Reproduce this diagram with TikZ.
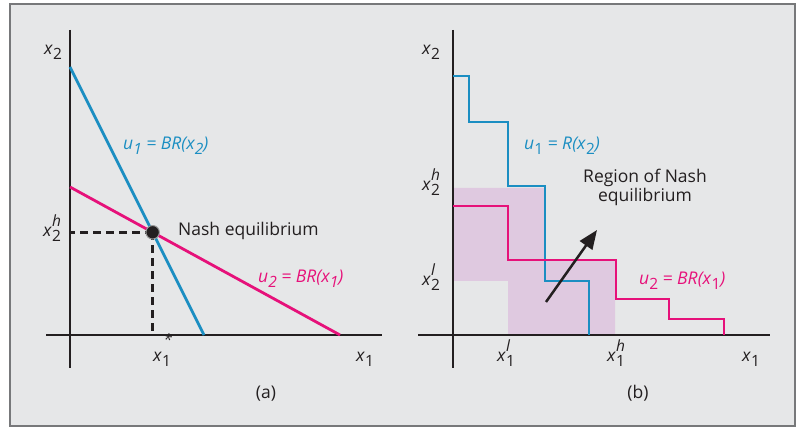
\documentclass[tikz,border=0pt]{standalone}
\usepackage{fontspec}
\setmainfont{Open Sans}
\usetikzlibrary{arrows.meta}
\definecolor{bg}{HTML}{E6E7E8}
\definecolor{frm}{HTML}{77787A}
\definecolor{cblue}{HTML}{1B8EC2}
\definecolor{cmag}{HTML}{E6117A}
\definecolor{shadec}{HTML}{DFC9E0}
\definecolor{txt}{HTML}{231F20}
\newcommand{\mysbx}[1]{\raisebox{-0.24em}{\fontsize{15.5}{15.5}\selectfont #1}}
\newcommand{\myspx}[2]{\raisebox{#1}{\fontsize{15.5}{15.5}\selectfont\itshape #2}}
\newcommand{\myvs}[2]{\textit{#1}\mysbx{#2}}
\newcommand{\myvss}[3]{\textit{#1}\rlap{\mysbx{#2}}\myspx{0.62em}{#3}}
\tikzset{
  axis/.style={line width=1.3pt, txt},
  curve/.style={line width=2.8pt, line join=miter},
  lbl/.style={inner sep=0pt, text=txt, font=\fontsize{17.5}{19.5}\selectfont},
  dashedln/.style={line width=2.7pt, txt, dash pattern=on 8pt off 5pt},
}
\begin{document}
\begin{tikzpicture}[x=1pt,y=-1pt]
\useasboundingbox (0,0) rectangle (803,427);
\fill[white] (0,0) rectangle (803,427);
\draw[frm, fill=bg, line width=1.2pt] (10,4) rectangle (795,426);

% ---------- panel (a) ----------
\coordinate (ay0) at (70,30);  \coordinate (ay1) at (70,368);
\coordinate (ax0) at (46,335); \coordinate (ax1) at (382,335);
\coordinate (aO) at (70,335);
\coordinate (b1) at (70,67);  \coordinate (b2) at (204,335);
\coordinate (m1) at (70,187); \coordinate (m2) at (340,335);
\draw[axis] (ay0) -- (ay1);
\draw[axis] (ax0) -- (ax1);
\draw[curve, cblue] (b1) -- (b2);
\draw[curve, cmag] (m1) -- (m2);
\coordinate (eqc) at (intersection of b1--b2 and m1--m2);
\draw[dashedln] (eqc) -- (eqc -| aO);
\draw[dashedln] (eqc) -- (eqc |- aO);
\node[circle, fill=txt, draw=black!40, line width=1pt, inner sep=0pt, minimum size=13.5pt] (eq) at (eqc) {};

\node[lbl, anchor=base west] (ax2) at (44,55) {\myvs{x}{2}};
\node[lbl, anchor=base west] (ax2h) at (43,237) {\myvss{x}{2}{h}};
\node[lbl, anchor=base west] (ax1s) at (153,362) {\textit{x}\rlap{\mysbx{1}}\myspx{0.95em}{\kern0.08em*}};
\node[lbl, anchor=base west] (ax1) at (356,362) {\myvs{x}{1}};
\node[lbl, anchor=base west, text=cblue] (au1) at (123,150) {\textit{u\mysbx{1} = BR(x\mysbx{2})}};
\node[lbl, anchor=base west] (nash) at (178,236) {Nash equilibrium};
\node[lbl, anchor=base west, text=cmag] (au2) at (258,283) {\textit{u\mysbx{2} = BR(x\mysbx{1})}};
\node[lbl, anchor=base] (capa) at (266,399) {(a)};

% ---------- panel (b) ----------
\coordinate (by0) at (453,30);  \coordinate (by1) at (453,368);
\coordinate (bx0) at (418,335); \coordinate (bx1) at (770,335);
\fill[shadec] (453,188) -- (545,188) -- (545,260) -- (615,260) -- (615,335)
  -- (508,335) -- (508,281) -- (453,281) -- cycle;
\draw[axis] (by0) -- (by1);
\draw[axis] (bx0) -- (bx1);
\draw[curve, cblue] (453,76) -- (469,76) -- (469,122) -- (508,122) -- (508,186)
  -- (545,186) -- (545,281) -- (589,281) -- (589,335);
\draw[curve, cmag] (453,206) -- (508,206) -- (508,260) -- (616,260) -- (616,299)
  -- (669,299) -- (669,319) -- (724,319) -- (724,335);
\coordinate (arrS) at (546,302);
\coordinate (arrE) at (597,230);
\draw[line width=2.5pt, txt, -{Triangle[length=19pt,width=15pt]}] (arrS) -- (arrE);

\node[lbl, anchor=base west] (bx2) at (422,55) {\myvs{x}{2}};
\node[lbl, anchor=base west] (bx2h) at (422,191) {\myvss{x}{2}{h}};
\node[lbl, anchor=base west] (bx2l) at (422,286) {\myvss{x}{2}{l}};
\node[lbl, anchor=base west] (bx1l) at (497,362) {\myvss{x}{1}{l}};
\node[lbl, anchor=base west] (bx1h) at (607,362) {\myvss{x}{1}{h}};
\node[lbl, anchor=base west] (bx1) at (742,362) {\myvs{x}{1}};
\node[lbl, anchor=base west, text=cblue] (bu1) at (524,150) {\textit{u}\mysbx{1} \textit{= R(x}\mysbx{2}\textit{)}};
\node[lbl, anchor=base west, text=cmag] (bu2) at (639,285) {\textit{u}\mysbx{2} \textit{= BR(x}\mysbx{1}\textit{)}};
\node[lbl, align=center, anchor=base] (region) at (645,202) {Region of Nash\\equilibrium};
\node[lbl, anchor=base] (capb) at (638,399) {(b)};
\end{tikzpicture}
\end{document}
